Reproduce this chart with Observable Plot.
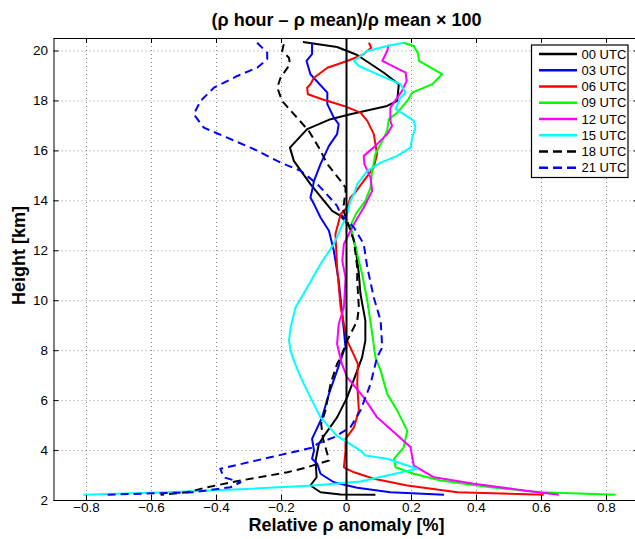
<!DOCTYPE html>
<html><head><meta charset="utf-8">
<script src="https://cdn.jsdelivr.net/npm/d3@7"></script>
<script src="https://cdn.jsdelivr.net/npm/@observablehq/plot@0.6"></script>
<style>
html,body{margin:0;padding:0;background:#fff;overflow:hidden;}
#chart{position:relative;width:635px;height:539px;}
</style></head><body><div id="chart"></div>
<script>
// ---- tick labels / text ----
const xTicks = [-0.8, -0.6, -0.4, -0.2, 0, 0.2, 0.4, 0.6, 0.8];
const yTicks = [2, 4, 6, 8, 10, 12, 14, 16, 18, 20];
const titleText = "(\u03c1 hour \u2013 \u03c1 mean)/\u03c1 mean \u00d7 100";
const xLabel = "Relative \u03c1 anomaly [%]";
const yLabel = "Height [km]";

// ---- series ----
const seriesNames = ["00 UTC", "03 UTC", "06 UTC", "09 UTC", "12 UTC", "15 UTC", "18 UTC", "21 UTC"];
const seriesColors = ["#000000", "#0000ff", "#ff0000", "#00ff00", "#ff00ff", "#00ffff", "#000000", "#0000ff"];
const seriesDashed = [false, false, false, false, false, false, true, true];

// heights [km] and relative anomalies [%] per series
const h00 = [20.36, 20.16, 19.84, 19.13, 18.67, 18.0, 17.8, 17.47, 17.27, 16.87, 16.13, 15.6, 14.67, 13.6, 13.4, 12.93, 12.13, 11.07, 10.27, 9.2, 8.4, 7.73, 7.2, 6.13, 5.33, 4.67, 4.27, 3.6, 2.93, 2.6, 2.33, 2.24, 2.23];
const v00 = [-0.134, -0.029, 0.033, 0.115, 0.161, 0.156, 0.125, 0.012, -0.049, -0.121, -0.174, -0.162, -0.111, -0.044, -0.018, 0.012, 0.028, 0.038, 0.043, 0.058, 0.058, 0.048, 0.033, 0.002, -0.029, -0.065, -0.085, -0.095, -0.092, -0.111, -0.08, -0.018, 0.089];

const h03 = [20.33, 19.87, 19.6, 19.07, 18.33, 17.87, 17.33, 17.07, 16.67, 16.2, 15.47, 14.8, 14.4, 14.13, 13.87, 13.33, 12.8, 12.0, 10.8, 9.47, 8.13, 8.0, 7.2, 6.27, 5.33, 4.47, 4.0, 3.67, 3.47, 3.07, 2.73, 2.51, 2.33, 2.23];
const v03 = [-0.106, -0.106, -0.123, -0.111, -0.059, -0.059, -0.039, -0.024, -0.029, -0.054, -0.08, -0.1, -0.106, -0.111, -0.1, -0.08, -0.054, -0.039, -0.024, -0.013, -0.003, -0.008, -0.029, -0.054, -0.075, -0.106, -0.1, -0.106, -0.09, -0.08, -0.039, 0.033, 0.135, 0.3];

const h06 = [20.33, 20.13, 19.85, 19.6, 19.33, 18.93, 18.67, 18.53, 18.27, 18.07, 17.8, 17.53, 17.2, 16.67, 15.87, 15.33, 14.8, 14.27, 14.13, 13.73, 13.47, 12.67, 11.33, 9.73, 8.4, 7.9, 7.47, 6.67, 5.6, 4.93, 4.47, 3.99, 3.33, 3.13, 2.87, 2.6, 2.33, 2.23];
const v06 = [0.069, 0.076, 0.05, 0.002, -0.059, -0.1, -0.111, -0.121, -0.119, -0.075, -0.008, 0.043, 0.064, 0.084, 0.094, 0.084, 0.053, 0.023, 0.012, 0.002, -0.018, -0.034, -0.029, -0.018, 0.002, 0.02, 0.035, 0.033, 0.038, 0.023, -0.003, -0.003, -0.008, 0.023, 0.084, 0.187, 0.341, 0.607];

const h09 = [20.33, 20.2, 19.9, 19.6, 19.07, 18.67, 18.33, 18.0, 17.53, 17.27, 16.8, 16.27, 15.87, 15.2, 14.53, 14.0, 13.5, 13.0, 12.13, 11.07, 10.0, 8.67, 7.73, 7.2, 6.27, 5.6, 4.8, 4.13, 3.67, 3.33, 3.07, 2.8, 2.53, 2.33, 2.23];
const v09 = [0.176, 0.207, 0.22, 0.223, 0.294, 0.264, 0.202, 0.187, 0.156, 0.13, 0.125, 0.105, 0.089, 0.079, 0.074, 0.058, 0.03, 0.012, 0.028, 0.048, 0.064, 0.079, 0.089, 0.105, 0.125, 0.156, 0.187, 0.176, 0.146, 0.151, 0.207, 0.289, 0.443, 0.597, 0.828];

const h12 = [20.25, 20.0, 19.6, 19.13, 18.8, 18.4, 17.73, 17.2, 17.0, 16.67, 16.2, 15.8, 15.47, 14.93, 14.4, 13.73, 13.07, 12.27, 11.6, 10.93, 9.73, 9.07, 8.27, 7.5, 6.93, 6.13, 5.33, 4.73, 4.13, 3.4, 2.93, 2.67, 2.4, 2.23];
const v12 = [0.13, 0.125, 0.11, 0.182, 0.185, 0.171, 0.135, 0.135, 0.14, 0.125, 0.089, 0.053, 0.055, 0.074, 0.079, 0.053, 0.023, -0.008, -0.013, -0.003, -0.008, -0.024, -0.029, -0.015, 0.002, 0.053, 0.094, 0.146, 0.197, 0.207, 0.269, 0.392, 0.546, 0.653];

const h15 = [20.33, 20.2, 20.0, 19.6, 19.4, 19.07, 18.67, 18.33, 18.13, 17.67, 17.47, 17.2, 16.93, 16.53, 16.13, 15.8, 15.53, 15.2, 14.67, 14.27, 14.0, 13.47, 12.27, 11.47, 10.53, 9.73, 8.93, 8.4, 8.0, 7.6, 6.93, 6.13, 5.33, 4.6, 4.0, 3.8, 3.67, 3.27, 2.76, 2.6, 2.45, 2.33, 2.23];
const v15 = [0.176, 0.125, 0.064, 0.023, 0.038, 0.094, 0.166, 0.182, 0.166, 0.151, 0.176, 0.207, 0.212, 0.202, 0.197, 0.156, 0.105, 0.064, 0.033, 0.023, 0.012, 0.002, -0.039, -0.08, -0.121, -0.157, -0.172, -0.177, -0.172, -0.162, -0.141, -0.111, -0.08, -0.03, 0.043, 0.058, 0.125, 0.217, 0.043, -0.1, -0.326, -0.55, -0.81];

const h18 = [20.27, 20.0, 19.73, 19.47, 18.93, 18.53, 18.0, 17.47, 16.8, 16.13, 15.47, 14.8, 14.53, 14.4, 13.87, 13.73, 13.2, 12.4, 11.33, 10.8, 9.73, 9.2, 8.4, 7.73, 7.47, 6.67, 5.6, 5.07, 4.45, 3.87, 3.6, 3.47, 3.33, 3.13, 2.8, 2.53, 2.33, 2.23];
const v18 = [-0.193, -0.198, -0.177, -0.174, -0.203, -0.213, -0.198, -0.162, -0.116, -0.085, -0.059, -0.018, -0.003, -0.003, -0.008, -0.013, 0.002, 0.023, 0.033, 0.033, 0.038, 0.033, 0.002, -0.018, -0.029, -0.049, -0.065, -0.078, -0.072, -0.059, -0.054, -0.088, -0.121, -0.182, -0.326, -0.429, -0.49, -0.572];

const h21 = [20.33, 19.93, 19.67, 19.33, 19.0, 18.53, 18.0, 17.47, 16.93, 16.53, 16.07, 15.53, 15.2, 14.67, 14.4, 13.8, 13.47, 12.93, 12.27, 11.33, 10.13, 9.2, 8.13, 7.73, 6.67, 5.6, 4.93, 4.8, 4.53, 4.27, 4.13, 3.7, 3.27, 2.93, 2.73, 2.53, 2.33, 2.23];
const v21 = [-0.275, -0.244, -0.244, -0.275, -0.336, -0.408, -0.449, -0.47, -0.439, -0.367, -0.285, -0.203, -0.141, -0.09, -0.07, -0.029, -0.018, 0.023, 0.053, 0.064, 0.084, 0.105, 0.11, 0.094, 0.074, 0.043, 0.012, -0.005, -0.039, -0.09, -0.1, -0.245, -0.388, -0.378, -0.326, -0.357, -0.47, -0.74];

const heights = [h00, h03, h06, h09, h12, h15, h18, h21];
const values = [v00, v03, v06, v09, v12, v15, v18, v21];

// ---- layout ----
const W = 635, H = 539;
const mL = 53.5, mT = 38, mB = 39;
const frameW = W - mL, frameH = H - mT - mB;

const series = seriesNames.map((name, i) => ({
  name, color: seriesColors[i], dashed: seriesDashed[i],
  rows: heights[i].map((h, j) => ({h, v: values[i][j]}))
}));

const fmtX = d => d === 0 ? "0" : d3.format(".1f")(d);
const gridStyle = {stroke: "#000", strokeOpacity: 0.45, strokeDasharray: "1,3", strokeWidth: 1};

const marks = [
  Plot.ruleX(xTicks, gridStyle),
  Plot.ruleY(yTicks, gridStyle),
  ...series.map(s => Plot.line(s.rows, {
    x: "v", y: "h", stroke: s.color, strokeWidth: 2,
    strokeDasharray: s.dashed ? "8,5" : null, strokeLinejoin: "round", strokeLinecap: "butt"
  })),
  Plot.ruleX([0], {stroke: "#000", strokeWidth: 2}),
  // frame
  Plot.ruleX([-0.9], {stroke: "#000", strokeWidth: 1}),
  Plot.ruleY([2], {stroke: "#000", strokeWidth: 1}),
  Plot.ruleY([20.5], {stroke: "#000", strokeWidth: 1}),
  // inward ticks
  Plot.ruleX(xTicks, {stroke: "#000", insetTop: frameH - 5}),
  Plot.ruleX(xTicks, {stroke: "#000", insetBottom: frameH - 5}),
  Plot.ruleY(yTicks, {stroke: "#000", insetRight: frameW - 5}),
  Plot.ruleY(yTicks, {stroke: "#000", insetLeft: frameW - 1.5}),
  // texts
  Plot.text([titleText], {x: 0, frameAnchor: "top", lineAnchor: "middle", dy: -18, fontWeight: "bold", fontSize: 18, fill: "#000"}),
  Plot.text([xLabel], {x: 0, frameAnchor: "bottom", lineAnchor: "middle", dy: 25, fontWeight: "bold", fontSize: 18, fill: "#000"}),
  Plot.text([yLabel], {frameAnchor: "left", textAnchor: "middle", lineAnchor: "middle", dx: -35, dy: -14, rotate: -90, fontWeight: "bold", fontSize: 18, fill: "#000"})
];

const chart = Plot.plot({
  width: W, height: H,
  marginLeft: mL, marginRight: 0, marginTop: mT, marginBottom: mB,
  style: {fontFamily: "'Liberation Sans', Arial, Helvetica, sans-serif", fontSize: "13.5px", background: "#fff", color: "#000"},
  x: {domain: [-0.9, 0.9], range: [mL, mL + 585], ticks: xTicks, tickFormat: fmtX, tickSize: 0, tickPadding: 2, label: null},
  y: {domain: [2, 20.5], ticks: yTicks, tickSize: 0, tickPadding: 6, label: null},
  marks
});
document.getElementById("chart").appendChild(chart);

// ---- legend ----
const svg = d3.select(chart);
const lg = svg.append("g").attr("font-family", "'Liberation Sans', Arial, sans-serif").attr("font-size", 13).attr("text-anchor", "start");
lg.append("rect").attr("x", 531.5).attr("y", 45).attr("width", 96.5).attr("height", 132.5)
  .attr("fill", "#fff").attr("stroke", "#000").attr("stroke-width", 1.2);
series.forEach((s, i) => {
  const y = 54 + i * 16.25;
  lg.append("line").attr("x1", 539).attr("x2", 577).attr("y1", y).attr("y2", y)
    .attr("stroke", s.color).attr("stroke-width", 2.5)
    .attr("stroke-dasharray", s.dashed ? "9,5" : null);
  lg.append("text").attr("x", 581.5).attr("y", y).attr("dy", "0.35em").attr("text-anchor", "start").attr("fill", "#000").text(s.name);
});
</script></body></html>
